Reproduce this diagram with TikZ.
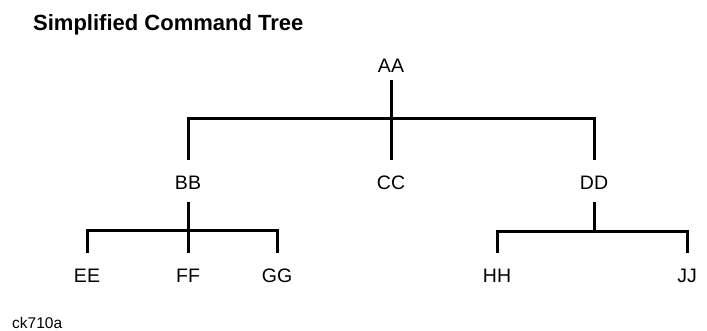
\documentclass[tikz,border=0pt]{standalone}
\usepackage{fontspec}
\setmainfont{Liberation Sans}
\tikzset{
  lbl/.style={font=\fontsize{19.5}{20}\selectfont, inner sep=0pt, anchor=base,
    text height=29pt, text depth=13pt},
  branch/.style={line width=3pt}
}
\begin{document}
\begin{tikzpicture}[x=1pt,y=-1pt]
\useasboundingbox (0,0) rectangle (707,330);

% Title and figure id
\node (title) [anchor=base west, inner sep=0pt, font=\bfseries\fontsize{22}{24}\selectfont]
  at (33,30) {Simplified Command Tree};
\node (figid) [anchor=base west, inner sep=0pt, font=\fontsize{15.5}{16}\selectfont]
  at (12,328) {ck710a};

% Nodes
\node (AA) [lbl, text depth=8pt] at (391,72) {AA};
\foreach \n/\x in {BB/188,CC/391,DD/594}
  \node (\n) [lbl] at (\x,189) {\n};
\foreach \n/\x in {EE/87,FF/188,GG/277,HH/497,JJ/687}
  \node (\n) [lbl] at (\x,282) {\n};

% Junctions
\coordinate (ja) at (391,118);
\coordinate (jb) at (188,230);
\coordinate (jd) at (594,231);

% Branches
\draw[branch] (AA) -- (CC);
\draw[branch] (BB.north) |- (ja) -| (DD.north);
\draw[branch] (BB) -- (FF);
\draw[branch] (EE.north) |- (jb) -| (GG.north);
\draw[branch] (DD) -- (jd);
\draw[branch] (HH.north) |- (jd) -| (JJ.north);
\end{tikzpicture}
\end{document}
